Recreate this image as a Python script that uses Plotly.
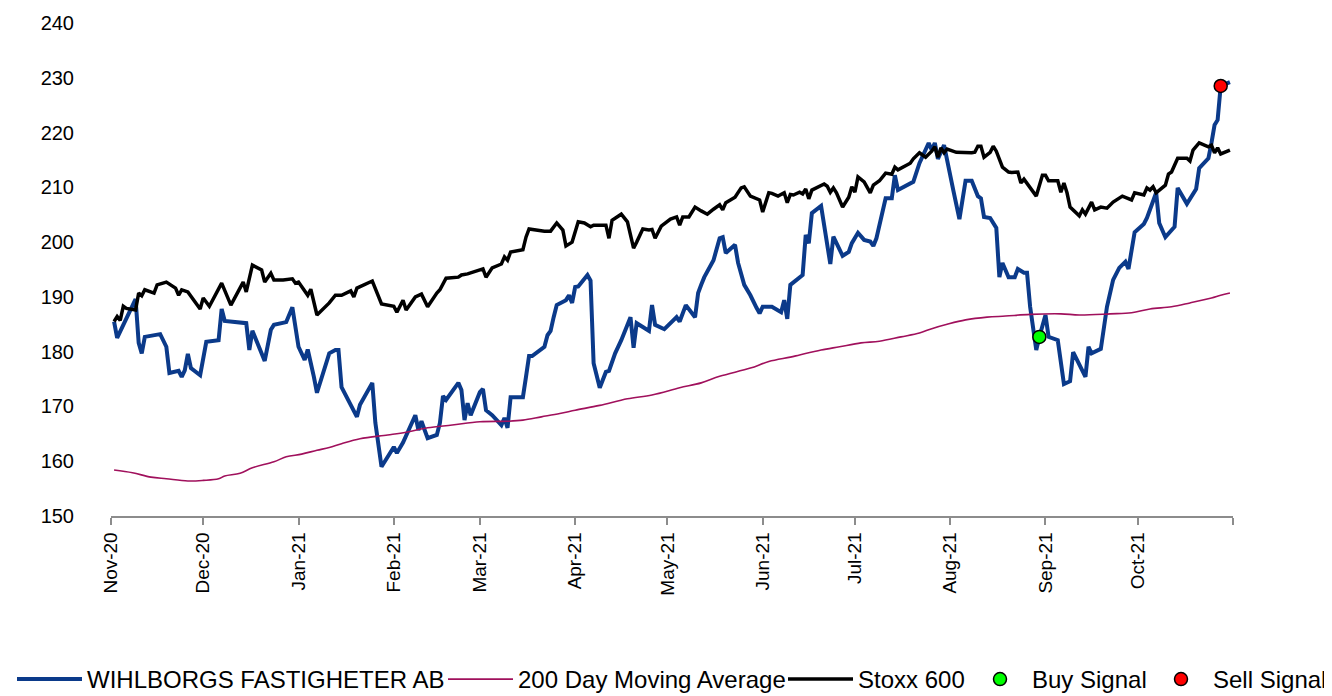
import plotly.graph_objects as go

# ---------------- data ----------------
wihl_dates = [
    "2020-11-02","2020-11-03","2020-11-09","2020-11-10","2020-11-11","2020-11-12","2020-11-17","2020-11-19",
    "2020-11-20","2020-11-23","2020-11-24","2020-11-25","2020-11-26","2020-11-27","2020-11-30","2020-12-02",
    "2020-12-06","2020-12-07","2020-12-08","2020-12-15","2020-12-16","2020-12-17","2020-12-21","2020-12-23",
    "2020-12-24","2020-12-28","2020-12-30","2021-01-01","2021-01-03","2021-01-04","2021-01-06","2021-01-07",
    "2021-01-11","2021-01-13","2021-01-14","2021-01-15","2021-01-20","2021-01-21","2021-01-25","2021-01-26",
    "2021-01-28","2021-02-01","2021-02-02","2021-02-04","2021-02-08","2021-02-09","2021-02-10","2021-02-12",
    "2021-02-15","2021-02-16","2021-02-17","2021-02-18","2021-02-22","2021-02-23","2021-02-24","2021-02-25",
    "2021-02-26","2021-03-01","2021-03-02","2021-03-03","2021-03-05","2021-03-08","2021-03-09","2021-03-10",
    "2021-03-11","2021-03-15","2021-03-16","2021-03-17","2021-03-18","2021-03-22","2021-03-23","2021-03-24",
    "2021-03-25","2021-03-26","2021-03-29","2021-03-30","2021-03-31","2021-04-01","2021-04-02","2021-04-05",
    "2021-04-06","2021-04-07","2021-04-09","2021-04-11","2021-04-12","2021-04-14","2021-04-16","2021-04-19",
    "2021-04-20","2021-04-21","2021-04-23","2021-04-25","2021-04-26","2021-04-27","2021-04-30","2021-05-04",
    "2021-05-05","2021-05-07","2021-05-10","2021-05-11","2021-05-12","2021-05-13","2021-05-16","2021-05-18",
    "2021-05-19","2021-05-20","2021-05-23","2021-05-24","2021-05-26","2021-05-28","2021-05-30","2021-05-31",
    "2021-06-01","2021-06-04","2021-06-07","2021-06-08","2021-06-09","2021-06-10","2021-06-14","2021-06-15",
    "2021-06-16","2021-06-17","2021-06-20","2021-06-23","2021-06-24","2021-06-27","2021-06-29","2021-06-30",
    "2021-07-02","2021-07-04","2021-07-06","2021-07-07","2021-07-08","2021-07-11","2021-07-13","2021-07-14",
    "2021-07-15","2021-07-20","2021-07-22","2021-07-25","2021-07-26","2021-07-27","2021-07-28","2021-07-30",
    "2021-08-02","2021-08-04","2021-08-06","2021-08-08","2021-08-10","2021-08-11","2021-08-12","2021-08-14",
    "2021-08-16","2021-08-17","2021-08-18","2021-08-20","2021-08-22","2021-08-23","2021-08-25","2021-08-26",
    "2021-08-27","2021-08-29","2021-08-30","2021-09-01","2021-09-02","2021-09-05","2021-09-07","2021-09-09",
    "2021-09-10","2021-09-14","2021-09-15","2021-09-16","2021-09-19","2021-09-21","2021-09-23","2021-09-25",
    "2021-09-27","2021-09-28","2021-09-30","2021-10-03","2021-10-04","2021-10-07","2021-10-08","2021-10-10",
    "2021-10-13","2021-10-14","2021-10-17","2021-10-19","2021-10-20","2021-10-21","2021-10-24","2021-10-25",
    "2021-10-26","2021-10-27","2021-10-28","2021-10-31",
]
wihl_values = [
    185.5,182.5,189.6,181.6,179.7,182.7,183.2,180.9,
    176.1,176.5,175.4,176.6,179.6,177.0,175.7,181.8,
    182.1,187.8,185.6,185.2,180.3,183.8,178.3,184.0,
    184.9,185.4,188.1,180.9,178.5,180.4,175.4,172.5,
    179.7,180.3,180.3,173.5,168.1,170.3,174.3,167.0,
    159.0,162.6,161.5,163.4,168.4,165.7,167.3,164.2,
    164.8,167.0,171.9,171.2,174.3,173.0,167.5,170.6,
    168.4,172.6,173.2,169.3,168.4,166.6,167.9,166.1,
    171.7,171.7,175.4,179.2,179.2,180.9,183.0,183.8,
    186.3,188.5,189.4,190.3,188.9,191.8,191.9,194.0,
    193.0,177.9,173.4,176.3,176.5,179.7,182.1,186.3,
    180.7,185.2,184.5,183.8,188.5,184.9,184.1,186.3,
    185.5,188.5,186.3,190.7,192.2,193.6,196.7,200.7,
    200.9,198.0,199.5,196.2,192.2,190.3,188.0,187.0,
    188.2,188.2,187.2,189.4,186.0,192.2,194.0,201.3,
    199.8,205.3,206.6,196.0,201.0,197.5,198.2,199.8,
    201.7,200.4,200.1,199.3,200.7,208.0,208.0,212.2,
    209.5,211.0,214.4,218.1,216.8,218.1,215.2,217.7,
    209.5,204.2,211.2,211.2,208.4,208.0,204.6,204.4,
    202.6,193.6,196.2,193.6,193.6,195.1,194.4,194.4,
    188.2,180.3,182.7,186.7,182.7,182.1,174.1,174.6,
    179.9,175.4,180.9,179.7,180.5,188.2,193.1,195.3,
    196.4,195.1,201.8,203.3,204.4,209.0,203.5,200.9,
    202.8,209.9,207.0,209.0,209.7,213.5,215.3,218.1,
    221.4,222.3,228.5,229.2,
]

ma_dates = [
    "2020-11-02","2020-11-08","2020-11-14","2020-11-19","2020-11-26","2020-12-01","2020-12-06","2020-12-08",
    "2020-12-13","2020-12-17","2020-12-24","2020-12-28","2021-01-02","2021-01-07","2021-01-11","2021-01-15",
    "2021-01-21","2021-01-30","2021-02-05","2021-02-12","2021-02-20","2021-03-01","2021-03-10","2021-03-15",
    "2021-03-21","2021-03-27","2021-04-01","2021-04-09","2021-04-18","2021-04-26","2021-05-05","2021-05-12",
    "2021-05-18","2021-05-28","2021-06-03","2021-06-10","2021-06-13","2021-06-20","2021-06-26","2021-07-03",
    "2021-07-09","2021-07-16","2021-07-22","2021-07-26","2021-07-31","2021-08-06","2021-08-13","2021-08-19",
    "2021-08-27","2021-09-06","2021-09-12","2021-09-22","2021-09-29","2021-10-05","2021-10-12","2021-10-18",
    "2021-10-25","2021-10-28","2021-10-31",
]
ma_values = [
    158.4,157.9,157.1,156.8,156.4,156.5,156.8,157.3,
    157.8,158.8,159.9,160.8,161.3,162.0,162.5,163.2,
    164.1,164.8,165.3,166.1,166.6,167.2,167.3,167.5,
    168.1,168.7,169.3,170.2,171.4,172.1,173.4,174.3,
    175.5,177.0,178.2,179.0,179.4,180.3,180.9,181.6,
    181.9,182.7,183.4,184.2,185.0,185.8,186.3,186.5,
    186.8,186.9,186.7,186.9,187.1,187.8,188.2,188.9,
    189.8,190.3,190.7,
]

stoxx_dates = [
    "2020-11-02","2020-11-03","2020-11-04","2020-11-05","2020-11-06","2020-11-08","2020-11-09","2020-11-10",
    "2020-11-11","2020-11-12","2020-11-15","2020-11-16","2020-11-19","2020-11-22","2020-11-23","2020-11-24",
    "2020-11-26","2020-11-30","2020-12-01","2020-12-03","2020-12-07","2020-12-10","2020-12-13","2020-12-14",
    "2020-12-15","2020-12-17","2020-12-20","2020-12-21","2020-12-23","2020-12-24","2020-12-27","2020-12-30",
    "2020-12-31","2021-01-01","2021-01-04","2021-01-05","2021-01-07","2021-01-11","2021-01-13","2021-01-15",
    "2021-01-18","2021-01-19","2021-01-20","2021-01-25","2021-01-28","2021-02-01","2021-02-02","2021-02-04",
    "2021-02-05","2021-02-08","2021-02-10","2021-02-12","2021-02-15","2021-02-16","2021-02-18","2021-02-22",
    "2021-02-23","2021-02-25","2021-03-02","2021-03-03","2021-03-05","2021-03-08","2021-03-09","2021-03-10",
    "2021-03-11","2021-03-15","2021-03-16","2021-03-17","2021-03-22","2021-03-24","2021-03-26","2021-03-28",
    "2021-03-29","2021-03-31","2021-04-02","2021-04-04","2021-04-06","2021-04-07","2021-04-11","2021-04-12",
    "2021-04-13","2021-04-16","2021-04-18","2021-04-20","2021-04-21","2021-04-23","2021-04-25","2021-04-26",
    "2021-04-27","2021-04-29","2021-05-02","2021-05-04","2021-05-05","2021-05-06","2021-05-08","2021-05-10",
    "2021-05-12","2021-05-14","2021-05-16","2021-05-18","2021-05-19","2021-05-20","2021-05-23","2021-05-25",
    "2021-05-26","2021-05-28","2021-05-31","2021-06-01","2021-06-03","2021-06-04","2021-06-06","2021-06-08",
    "2021-06-09","2021-06-10","2021-06-11","2021-06-13","2021-06-14","2021-06-15","2021-06-16","2021-06-17",
    "2021-06-21","2021-06-22","2021-06-23","2021-06-24","2021-06-25","2021-06-27","2021-06-29","2021-06-30",
    "2021-07-01","2021-07-02","2021-07-04","2021-07-06","2021-07-07","2021-07-09","2021-07-11","2021-07-13",
    "2021-07-14","2021-07-15","2021-07-19","2021-07-20","2021-07-22","2021-07-23","2021-07-24","2021-07-26",
    "2021-07-27","2021-07-28","2021-07-29","2021-07-30","2021-07-31","2021-08-03","2021-08-05","2021-08-08",
    "2021-08-09","2021-08-10","2021-08-11","2021-08-12","2021-08-14","2021-08-15","2021-08-16","2021-08-18",
    "2021-08-20","2021-08-21","2021-08-23","2021-08-24","2021-08-25","2021-08-29","2021-08-31","2021-09-01",
    "2021-09-02","2021-09-05","2021-09-06","2021-09-07","2021-09-08","2021-09-09","2021-09-12","2021-09-13",
    "2021-09-14","2021-09-16","2021-09-17","2021-09-19","2021-09-21","2021-09-23","2021-09-26","2021-09-29",
    "2021-09-30","2021-10-03","2021-10-04","2021-10-05","2021-10-06","2021-10-07","2021-10-10","2021-10-11",
    "2021-10-12","2021-10-14","2021-10-17","2021-10-18","2021-10-19","2021-10-21","2021-10-24","2021-10-25",
    "2021-10-26","2021-10-27","2021-10-28","2021-10-31",
]
stoxx_values = [
    185.5,186.4,185.7,188.3,187.9,187.8,187.6,190.7,
    190.2,191.3,190.7,192.2,192.7,191.6,190.3,191.3,
    190.9,187.8,189.8,188.3,192.5,188.5,191.8,192.7,
    190.9,195.8,194.9,192.7,194.3,193.1,193.1,193.3,
    192.5,192.7,190.3,191.4,186.7,188.9,190.3,190.3,
    191.1,190.0,191.6,192.9,188.7,188.3,187.2,189.4,
    187.6,190.0,190.5,188.2,190.7,191.3,193.4,193.6,
    194.0,194.2,195.1,193.6,195.3,196.0,197.3,196.7,
    198.2,198.6,200.9,202.4,202.0,202.0,203.5,202.2,
    199.3,200.0,203.7,203.5,202.8,203.1,203.1,200.7,
    204.0,205.1,203.7,198.9,200.0,202.4,202.2,202.3,
    200.7,202.9,204.2,204.6,203.1,204.6,204.6,206.4,
    205.7,205.1,206.0,206.8,205.9,207.2,208.2,209.9,
    210.1,208.4,207.7,205.5,209.0,208.9,208.4,209.0,
    207.2,208.7,208.6,209.1,208.8,209.7,207.9,209.5,
    210.6,210.2,209.1,209.9,209.0,206.4,208.2,210.1,
    209.1,211.9,211.0,209.0,210.4,211.2,212.6,212.4,
    213.7,213.2,214.4,215.2,216.3,215.9,215.5,216.6,
    217.4,215.5,217.2,216.3,217.0,216.4,216.3,216.3,
    216.4,217.5,217.5,215.5,216.4,217.5,216.6,213.7,
    212.8,212.7,212.8,210.8,211.5,208.4,212.2,212.2,
    211.2,211.2,209.1,210.8,209.0,206.4,204.8,205.9,
    205.1,207.3,205.9,206.4,206.2,207.3,208.4,207.7,
    209.0,208.6,209.9,209.5,210.1,209.0,210.4,212.4,
    212.8,215.3,215.3,214.8,216.8,218.1,217.4,217.7,
    216.3,217.2,216.1,216.8,
]

buy_dates = ["2021-08-30"]
buy_values = [182.7]
sell_dates = ["2021-10-28"]
sell_values = [228.5]

month_ticks = ["2020-11-01","2020-12-01","2021-01-01","2021-02-01","2021-03-01","2021-04-01",
               "2021-05-01","2021-06-01","2021-07-01","2021-08-01","2021-09-01","2021-10-01","2021-11-01"]
month_labels = ["Nov-20","Dec-20","Jan-21","Feb-21","Mar-21","Apr-21","May-21","Jun-21",
                "Jul-21","Aug-21","Sep-21","Oct-21",""]
y_ticks = [150,160,170,180,190,200,210,220,230,240]

# ---------------- figure ----------------
FONT = "Liberation Sans, Arial, sans-serif"
W, H = 1324, 694   # page body adds an 8px offset in the browser

fig = go.Figure()
fig.add_trace(go.Scatter(x=wihl_dates, y=wihl_values, mode="lines",
                         name="WIHLBORGS FASTIGHETER AB", legend="legend",
                         line=dict(color="#0B3A8A", width=4)))
fig.add_trace(go.Scatter(x=ma_dates, y=ma_values, mode="lines",
                         name="200 Day Moving Average", legend="legend2",
                         line=dict(color="#A0105C", width=1.6, shape="spline")))
fig.add_trace(go.Scatter(x=stoxx_dates, y=stoxx_values, mode="lines",
                         name="Stoxx 600", legend="legend3",
                         line=dict(color="#000000", width=3.5)))
fig.add_trace(go.Scatter(x=buy_dates, y=buy_values, mode="markers", name="Buy Signal",
                         legend="legend4",
                         marker=dict(color="#00FF00", size=13, line=dict(color="#000000", width=1.5))))
fig.add_trace(go.Scatter(x=sell_dates, y=sell_values, mode="markers", name="Sell Signal",
                         legend="legend5",
                         marker=dict(color="#FF0000", size=13, line=dict(color="#000000", width=1.5))))

def leg(xfrac, iw, anchor="left"):
    return dict(orientation="h", xref="container", yref="container",
                x=xfrac, xanchor=anchor, y=0.0, yanchor="bottom",
                font=dict(size=24, family=FONT, color="#000000"), itemwidth=iw,
                bgcolor="rgba(0,0,0,0)", borderwidth=0)

fig.update_layout(
    width=W, height=H,
    margin=dict(l=103, r=99, t=15, b=H - 15 - 493, autoexpand=False),
    paper_bgcolor="white", plot_bgcolor="white",
    font=dict(family=FONT, size=20, color="#000000"),
    showlegend=True,
    legend=leg(4 / W, 65), legend2=leg(435 / W, 65), legend3=leg(775 / W, 65),
    legend4=leg(960 / W, 54), legend5=leg(1.0, 54, "right"),
    xaxis=dict(type="date", range=["2020-11-01", "2021-11-01"],
               tickvals=month_ticks, ticktext=month_labels, tickangle=-90,
               showline=True, linecolor="#8C8C8C", linewidth=1.5,
               ticks="outside", ticklen=7, tickcolor="#8C8C8C", tickwidth=1.5,
               showgrid=False, zeroline=False, tickfont=dict(size=19), automargin=False),
    yaxis=dict(range=[150, 240], tickvals=y_ticks, showline=False, ticks="",
               showgrid=False, zeroline=False, tickfont=dict(size=20),
               ticklabelstandoff=36, automargin=False),
)

fig.write_html("out.html")
